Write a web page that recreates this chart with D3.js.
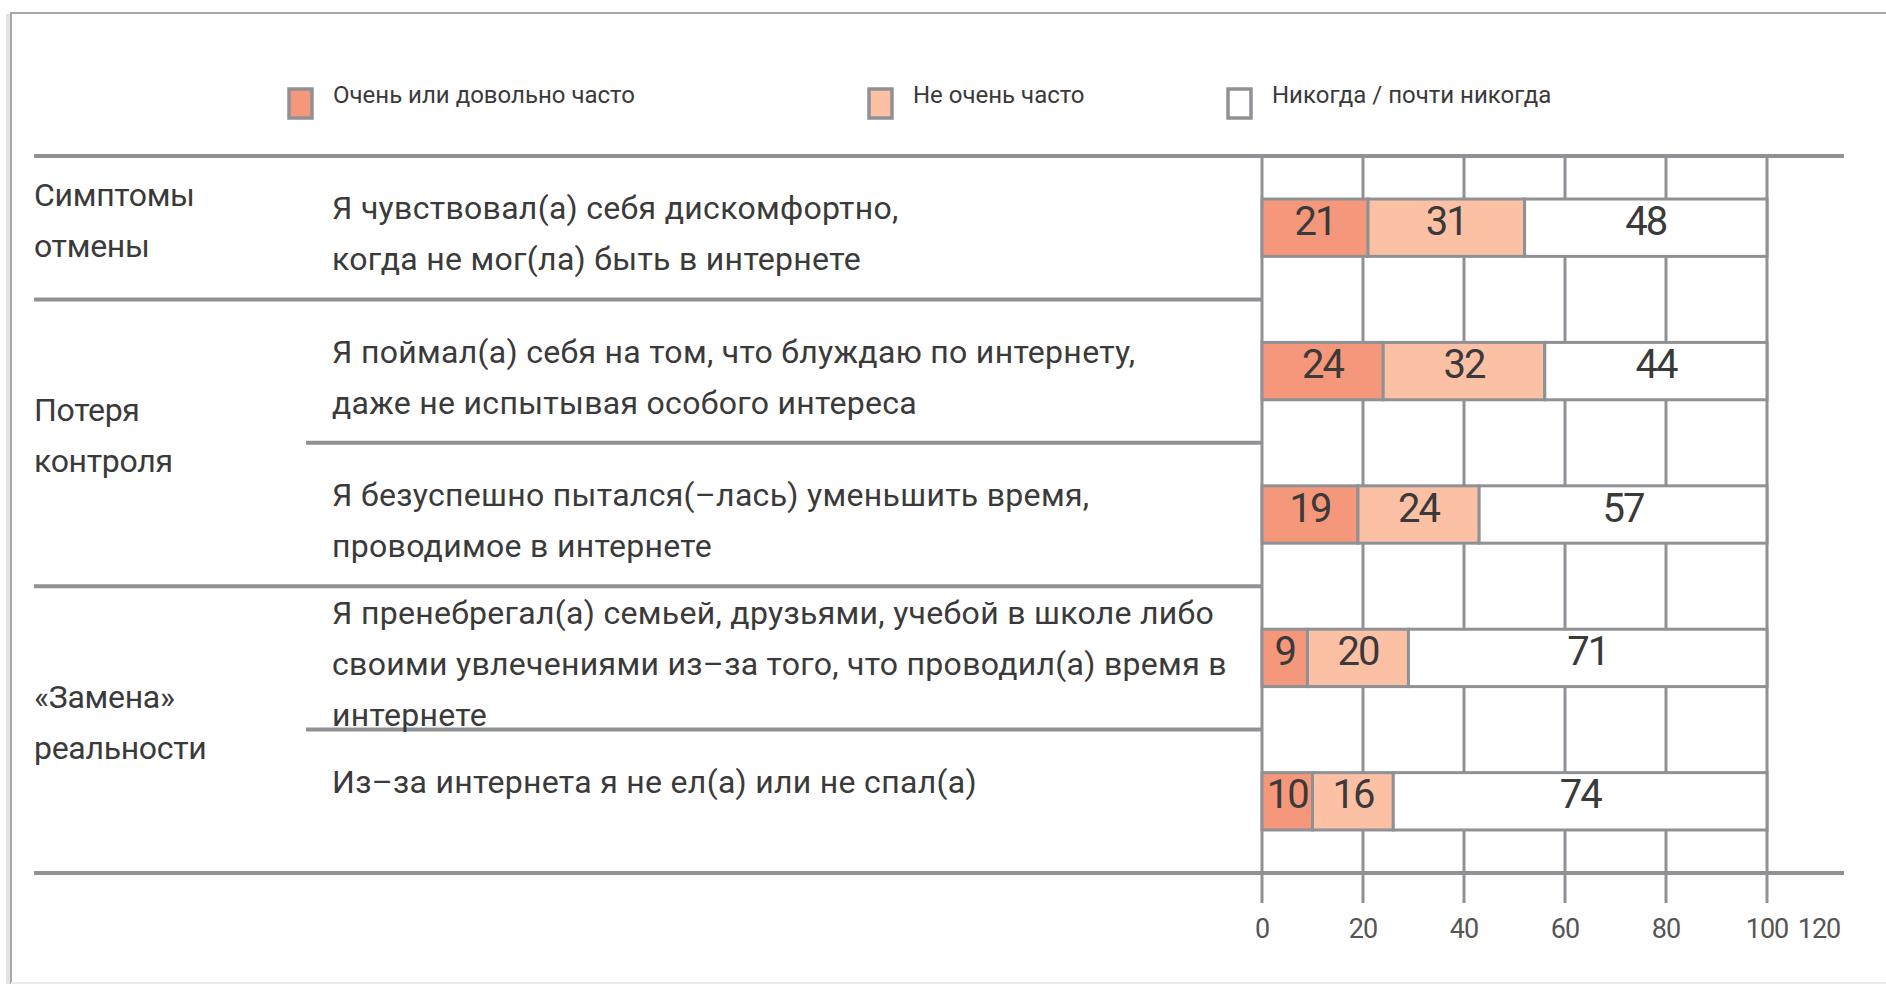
<!DOCTYPE html>
<html>
<head>
<meta charset="utf-8">
<script src="https://cdn.jsdelivr.net/npm/d3@7"></script>
<style>
    body { margin: 0; background: #fff; }
    text { font-family: Roboto, "Noto Sans", sans-serif; fill: #3a3a3a; }
</style>
</head>
<body>
<div id="chart"></div>
<script>
// chart data
var groupNames = [["Симптомы", "отмены"], ["Потеря", "контроля"], ["«Замена»", "реальности"]];
var groupOfRow = [0, 1, 1, 2, 2];
var statements = [
    ["Я чувствовал(а) себя дискомфортно,", "когда не мог(ла) быть в интернете"],
    ["Я поймал(а) себя на том, что блуждаю по интернету,", "даже не испытывая особого интереса"],
    ["Я безуспешно пытался(–лась) уменьшить время,", "проводимое в интернете"],
    ["Я пренебрегал(а) семьей, друзьями, учебой в школе либо",
     "своими увлечениями из–за того, что проводил(а) время в", "интернете"],
    ["Из–за интернета я не ел(а) или не спал(а)"]
];
var often = [21, 24, 19, 9, 10];
var notOften = [31, 32, 24, 20, 16];
var never = [48, 44, 57, 71, 74];
var seriesNames = ["Очень или довольно часто", "Не очень часто", "Никогда / почти никогда"];
var seriesColors = ["#f5977a", "#fcc0a5", "#ffffff"];
var gridValues = [0, 20, 40, 60, 80, 100];
var tickLabels = [0, 20, 40, 60, 80, 100, 120];

var width = 1886, height = 984;
var lineColor = "#8f9195";
var ruleLeft = 34, ruleRight = 1844, ruleTop = 156, ruleBottom = 873, textX = 332;

var svg = d3.select("#chart").append("svg")
    .attr("width", width)
    .attr("height", height);

// frame round the picture
svg.append("line").attr("x1", 8).attr("x2", 8).attr("y1", 14).attr("y2", height)
    .attr("stroke", "#e2e2e2").attr("stroke-width", 4);
svg.append("line").attr("x1", 11).attr("x2", 11).attr("y1", 12).attr("y2", height)
    .attr("stroke", "#a8a8a8").attr("stroke-width", 2);
svg.append("line").attr("x1", 11).attr("x2", width).attr("y1", 13).attr("y2", 13)
    .attr("stroke", "#a8a8a8").attr("stroke-width", 2);
svg.append("line").attr("x1", 11).attr("x2", width).attr("y1", 983).attr("y2", 983)
    .attr("stroke", "#ececec").attr("stroke-width", 2);

// build rows for the stack
var rows = often.map(function(d, i) {
    return { row: i, often: often[i], notOften: notOften[i], never: never[i] };
});
var keys = ["often", "notOften", "never"];
var stacked = d3.stack().keys(keys)(rows);

var x = d3.scaleLinear().domain([0, 100]).range([1262, 1767]);
var y = d3.scaleBand().domain(d3.range(rows.length))
    .range([ruleTop, ruleBottom]).paddingInner(0.6).paddingOuter(0.3);

// legend
var legendX = [289, 869, 1228];
var legend = svg.selectAll(".legend").data(seriesNames).enter().append("g")
    .attr("class", "legend")
    .attr("transform", function(d, i) { return "translate(" + legendX[i] + ",89)"; });
legend.append("rect")
    .attr("width", 23).attr("height", 29)
    .attr("fill", function(d, i) { return seriesColors[i]; })
    .attr("stroke", "#8f9195").attr("stroke-width", 3.5);
legend.append("text")
    .attr("x", 44).attr("y", 14)
    .style("font-size", "24px")
    .text(function(d) { return d; });

// vertical grid lines with ticks below the axis
svg.selectAll(".grid").data(gridValues).enter().append("line")
    .attr("class", "grid")
    .attr("x1", function(d) { return x(d); }).attr("x2", function(d) { return x(d); })
    .attr("y1", ruleTop).attr("y2", ruleBottom + 30)
    .attr("stroke", lineColor).attr("stroke-width", 3);

// top and bottom rules
[ruleTop, ruleBottom].forEach(function(yy) {
    svg.append("line").attr("x1", ruleLeft).attr("x2", ruleRight).attr("y1", yy).attr("y2", yy)
        .attr("stroke", lineColor).attr("stroke-width", 4);
});

// separators between rows: full width between groups, indented inside a group
for (var i = 1; i < rows.length; i++) {
    var sameGroup = groupOfRow[i] == groupOfRow[i - 1];
    var yy = y(i) - y.step() * y.paddingInner() / 2;
    svg.append("line")
        .attr("x1", sameGroup ? textX - 26 : ruleLeft).attr("x2", x(0))
        .attr("y1", yy).attr("y2", yy)
        .attr("stroke", lineColor).attr("stroke-width", 4);
}

// stacked bars
var layer = svg.selectAll(".layer").data(stacked).enter().append("g")
    .attr("class", "layer")
    .attr("fill", function(d, i) { return seriesColors[i]; });

layer.selectAll("rect").data(function(d) { return d; }).enter().append("rect")
    .attr("x", function(d) { return x(d[0]); })
    .attr("width", function(d) { return x(d[1]) - x(d[0]); })
    .attr("y", function(d) { return y(d.data.row); })
    .attr("height", y.bandwidth())
    .attr("stroke", lineColor).attr("stroke-width", 3);

layer.selectAll("text").data(function(d) { return d; }).enter().append("text")
    .attr("x", function(d) { return x((d[0] + d[1]) / 2); })
    .attr("y", function(d) { return y(d.data.row) + y.bandwidth() / 2 + 7; })
    .attr("text-anchor", "middle")
    .style("font-size", "40px")
    .style("letter-spacing", "-2px")
    .text(function(d) { return d[1] - d[0]; });

// statements: a one-line text sits like the first line of two
var lineH = 51;
statements.forEach(function(lines, r) {
    var center = y(r) + y.bandwidth() / 2;
    var first = center - Math.max(lines.length - 1, 1) * lineH / 2 + 17;
    lines.forEach(function(line, j) {
        svg.append("text")
            .attr("x", textX)
            .attr("y", first + j * lineH)
            .style("font-size", "32px")
            .style("letter-spacing", "0.3px")
            .text(line);
    });
});

// group names, centred on their rows
groupNames.forEach(function(lines, g) {
    var members = d3.range(rows.length).filter(function(r) { return groupOfRow[r] == g; });
    var center = (y(members[0]) + y(members[members.length - 1]) + y.bandwidth()) / 2;
    lines.forEach(function(line, j) {
        svg.append("text")
            .attr("x", ruleLeft)
            .attr("y", center + (j - (lines.length - 1) / 2) * lineH + 4)
            .style("font-size", "32px")
            .style("letter-spacing", "-0.3px")
            .text(line);
    });
});

// axis labels
svg.selectAll(".tick-label").data(tickLabels).enter().append("text")
    .attr("class", "tick-label")
    .attr("x", function(d) { return Math.min(x(d), ruleRight - 25); })
    .attr("y", 938)
    .attr("text-anchor", "middle")
    .style("font-size", "27px")
    .style("letter-spacing", "-1px")
    .style("fill", "#555")
    .text(function(d) { return d; });
</script>
</body>
</html>
